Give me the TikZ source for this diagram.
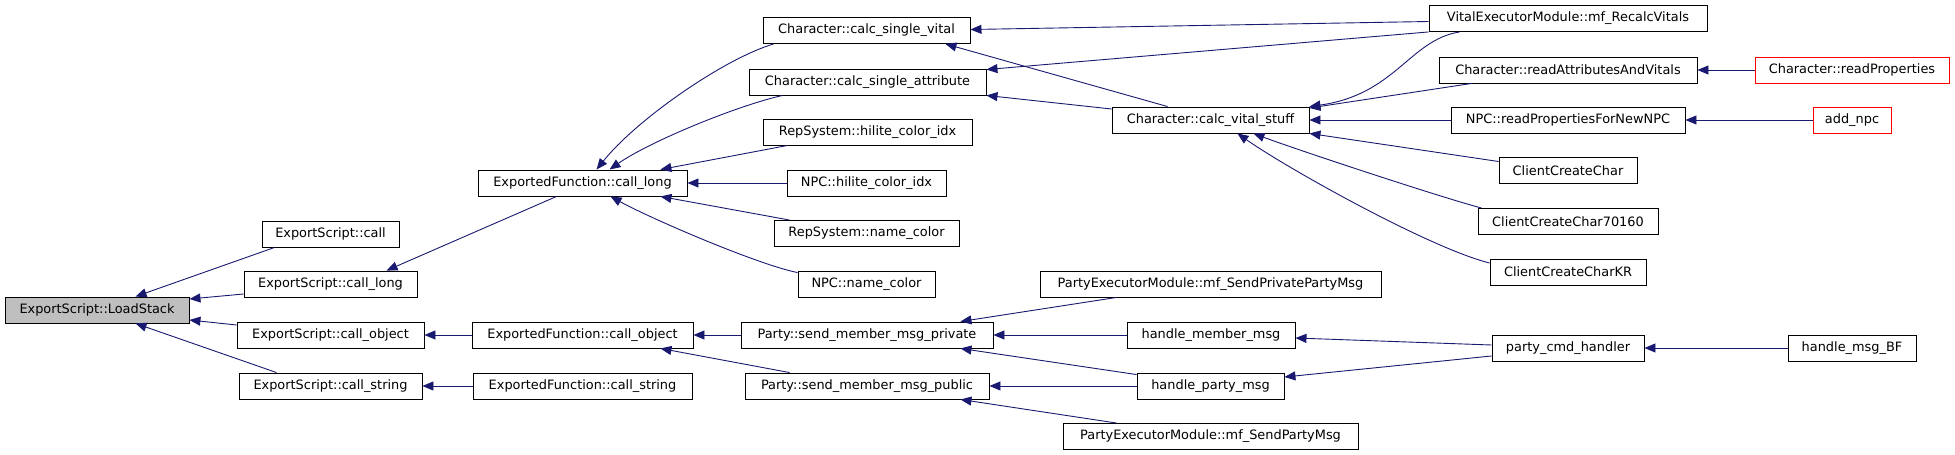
\documentclass[tikz,border=0pt]{standalone}
\usepackage{fontspec}
\setmainfont{DejaVu Sans}
\usetikzlibrary{arrows.meta,calc}
\definecolor{edgec}{HTML}{191970}
\definecolor{rootfill}{HTML}{BFBFBF}
\tikzset{
  box/.style={draw=black, line width=0.9pt, fill=white, inner sep=0pt, minimum height=26pt, font=\fontsize{12.9}{14}\selectfont},
  rootbox/.style={box, fill=rootfill},
  redbox/.style={box, draw=red},
  edge/.style={draw=edgec, line width=0.9pt, {Triangle[length=11pt,width=9pt]}-},
}
\begin{document}
\begin{tikzpicture}[x=1pt,y=-1pt]
\useasboundingbox (0,0) rectangle (1955,455);
% column 1
\node[rootbox, minimum width=184pt] (ls) at (97,310) {ExportScript::LoadStack};
% column 2
\node[box, minimum width=137pt] (esCall) at (330.5,234) {ExportScript::call};
\node[box, minimum width=173pt] (esLong) at (330.5,284) {ExportScript::call\_long};
\node[box, minimum width=187pt] (esObj) at (330.5,335) {ExportScript::call\_object};
\node[box, minimum width=183pt] (esStr) at (330.5,386) {ExportScript::call\_string};
% column 3
\node[box, minimum width=209pt] (efLong) at (582.5,183) {ExportedFunction::call\_long};
\node[box, minimum width=221pt] (efObj) at (582.5,335) {ExportedFunction::call\_object};
\node[box, minimum width=219pt] (efStr) at (582.5,386) {ExportedFunction::call\_string};
% column 4
\node[box, minimum width=207pt] (csv) at (866.5,30.5) {Character::calc\_single\_vital};
\node[box, minimum width=237pt] (csa) at (867.5,82) {Character::calc\_single\_attribute};
\node[box, minimum width=209pt] (rsHil) at (867.5,132) {RepSystem::hilite\_color\_idx};
\node[box, minimum width=159pt] (npcHil) at (866.5,183) {NPC::hilite\_color\_idx};
\node[box, minimum width=185pt] (rsName) at (866.5,233.5) {RepSystem::name\_color};
\node[box, minimum width=137pt] (npcName) at (866.5,284) {NPC::name\_color};
\node[box, minimum width=252pt] (smmPriv) at (867,335) {Party::send\_member\_msg\_private};
\node[box, minimum width=244pt] (smmPub) at (867,386) {Party::send\_member\_msg\_public};
% column 5
\node[box, minimum width=197pt] (cvs) at (1210.5,120) {Character::calc\_vital\_stuff};
\node[box, minimum width=341pt] (pemPriv) at (1210.5,284) {PartyExecutorModule::mf\_SendPrivatePartyMsg};
\node[box, minimum width=168pt] (hmm) at (1211,335) {handle\_member\_msg};
\node[box, minimum width=147pt] (hpm) at (1210.5,386) {handle\_party\_msg};
\node[box, minimum width=295pt] (pemParty) at (1210.5,436.5) {PartyExecutorModule::mf\_SendPartyMsg};
% column 6
\node[box, minimum width=278pt] (vem) at (1568,18.5) {VitalExecutorModule::mf\_RecalcVitals};
\node[box, minimum width=258pt] (rav) at (1568,70) {Character::readAttributesAndVitals};
\node[box, minimum width=234pt] (npcRP) at (1568,120) {NPC::readPropertiesForNewNPC};
\node[box, minimum width=138pt] (ccc) at (1568,170.5) {ClientCreateChar};
\node[box, minimum width=180pt] (ccc7) at (1568,221.5) {ClientCreateChar70160};
\node[box, minimum width=156pt] (cccKR) at (1568,272) {ClientCreateCharKR};
\node[box, minimum width=152pt] (pch) at (1568,348) {party\_cmd\_handler};
% column 7
\node[redbox, minimum width=194pt] (rp) at (1852,70) {Character::readProperties};
\node[redbox, minimum width=78pt] (addnpc) at (1852,120) {add\_npc};
\node[box, minimum width=128pt] (hmbf) at (1852,348) {handle\_msg\_BF};
% edges
\draw[edge] ($(ls.north west)+(131,0)$) -- ($(esCall.south west)+(13,0)$);
\draw[edge] ($(ls.east)+(0,-11)$) -- ($(esLong.west)+(0,10)$);
\draw[edge] ($(ls.east)+(0,10)$) -- ($(esObj.west)+(0,-10)$);
\draw[edge] ($(ls.south west)+(131,0)$) -- ($(esStr.north west)+(38,0)$);
\draw[edge] ($(esLong.north west)+(143,0)$) -- ($(efLong.south west)+(79,0)$);
\draw[edge] (esObj.east) -- (efObj.west);
\draw[edge] (esStr.east) -- (efStr.west);
\draw[edge] ($(efLong.north west)+(119,0)$) .. controls +(40,-50) and +(-50,15) .. ($(csv.south west)+(11,0)$);
\draw[edge] ($(efLong.north west)+(132,0)$) .. controls +(40,-28) and +(-45,10) .. ($(csa.south west)+(34,0)$);
\draw[edge] ($(efLong.north east)+(-27,0)$) -- ($(rsHil.south west)+(25,0)$);
\draw[edge] (efLong.east) -- (npcHil.west);
\draw[edge] ($(efLong.south east)+(-27,0)$) -- ($(rsName.north west)+(16,0)$);
\draw[edge] ($(efLong.south west)+(133,0)$) .. controls +(40,22) and +(-40,-8) .. ($(npcName.north west)+(0,2)$);
\draw[edge] (efObj.east) -- (smmPriv.west);
\draw[edge] ($(efObj.south east)+(-33,0)$) -- ($(smmPub.north west)+(45,0)$);
\draw[edge] ($(csv.east)+(0,-1)$) -- ($(vem.west)+(0,3)$);
\draw[edge] ($(csv.south east)+(-25,0)$) -- ($(cvs.north west)+(56,0)$);
\draw[edge] ($(csa.north east)+(0,1)$) -- (vem.south west);
\draw[edge] (csa.south east) -- ($(cvs.west)+(0,-11)$);
\draw[edge] (cvs.north east) .. controls +(86,-12) and +(-50,8) .. ($(vem.south west)+(31,0)$);
\draw[edge] ($(cvs.east)+(0,-12)$) -- ($(rav.south west)+(33,0)$);
\draw[edge] (cvs.east) -- (npcRP.west);
\draw[edge] (cvs.south east) -- ($(ccc.west)+(0,-9)$);
\draw[edge] ($(cvs.south east)+(-56,0)$) .. controls +(40,15) and +(-45,-12) .. ($(ccc7.north west)+(4,0)$);
\draw[edge] ($(cvs.south east)+(-72,0)$) .. controls +(50,35) and +(-60,-15) .. ($(cccKR.west)+(0,-9)$);
\draw[edge] (rav.east) -- (rp.west);
\draw[edge] (npcRP.east) -- (addnpc.west);
\draw[edge] ($(smmPriv.north east)+(-33,0)$) -- ($(pemPriv.south west)+(77,0)$);
\draw[edge] (smmPriv.east) -- (hmm.west);
\draw[edge] ($(smmPriv.south east)+(-33,0)$) -- ($(hpm.north west)+(0,2)$);
\draw[edge] (smmPub.east) -- (hpm.west);
\draw[edge] ($(smmPub.south east)+(-29,0)$) -- ($(pemParty.north west)+(54,0)$);
\draw[edge] ($(hmm.east)+(0,3)$) -- ($(pch.west)+(0,-3)$);
\draw[edge] ($(hpm.east)+(0,-9)$) -- ($(pch.west)+(0,8)$);
\draw[edge] (pch.east) -- (hmbf.west);
\end{tikzpicture}
\end{document}
